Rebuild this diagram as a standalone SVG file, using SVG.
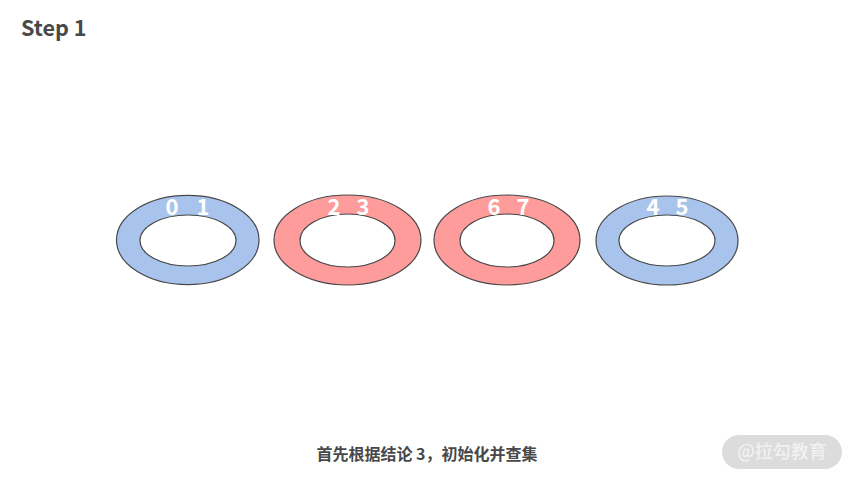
<svg xmlns="http://www.w3.org/2000/svg" width="853" height="480" viewBox="0 0 853 480">
<style>
text{font-family:"Noto Sans CJK SC","Noto Sans",sans-serif}
.ring{fill-rule:evenodd;stroke:#484848;stroke-width:1.2}
.blue{fill:#a9c4ec}
.red{fill:#fe9c9c}
.num{fill:#fff;font-size:22px;font-weight:700;text-anchor:middle}
</style>
<rect width="853" height="480" fill="#fff"/>
<text x="21" y="36" font-size="21.600" font-weight="700" fill="#484848">Step 1</text>
<g id="ring-01">
<path class="ring blue" d="M116.500 240a71 44.500 0 1 0 142.500 0a71 44.500 0 1 0 -142.500 0zM140 240.500a48 25.500 0 1 0 96 0a48 25.500 0 1 0 -96 0z"/>
<text class="num" x="172" y="215">0</text><text class="num" x="203" y="215">1</text>
</g>
<g id="ring-23">
<path class="ring red" d="M274 240a73.500 45 0 1 0 147 0a73.500 45 0 1 0 -147 0zM300 240.500a47.500 26.500 0 1 0 95 0a47.500 26.500 0 1 0 -95 0z"/>
<text class="num" x="334" y="215">2</text><text class="num" x="363" y="215">3</text>
</g>
<g id="ring-67">
<path class="ring red" d="M434 240a73 45 0 1 0 146 0a73 45 0 1 0 -146 0zM460 240.500a47 26.500 0 1 0 94 0a47 26.500 0 1 0 -94 0z"/>
<text class="num" x="494" y="215">6</text><text class="num" x="523" y="215">7</text>
</g>
<g id="ring-45">
<path class="ring blue" d="M596 240.500a71 44.500 0 1 0 142 0a71 44.500 0 1 0 -142 0zM619 240.500a48 25.500 0 1 0 96 0a48 25.500 0 1 0 -96 0z"/>
<text class="num" x="653" y="215">4</text><text class="num" x="682" y="215">5</text>
</g>
<text x="427" y="460" font-size="16" font-weight="700" fill="#484848" text-anchor="middle">首先根据结论 3，初始化并查集</text>
<g id="watermark">
<rect x="722" y="435" width="120" height="34" rx="17" fill="#dcdcdc"/>
<text x="782" y="458" font-size="18" font-weight="500" fill="#f2f2f2" text-anchor="middle">@拉勾教育</text>
</g>
</svg>
